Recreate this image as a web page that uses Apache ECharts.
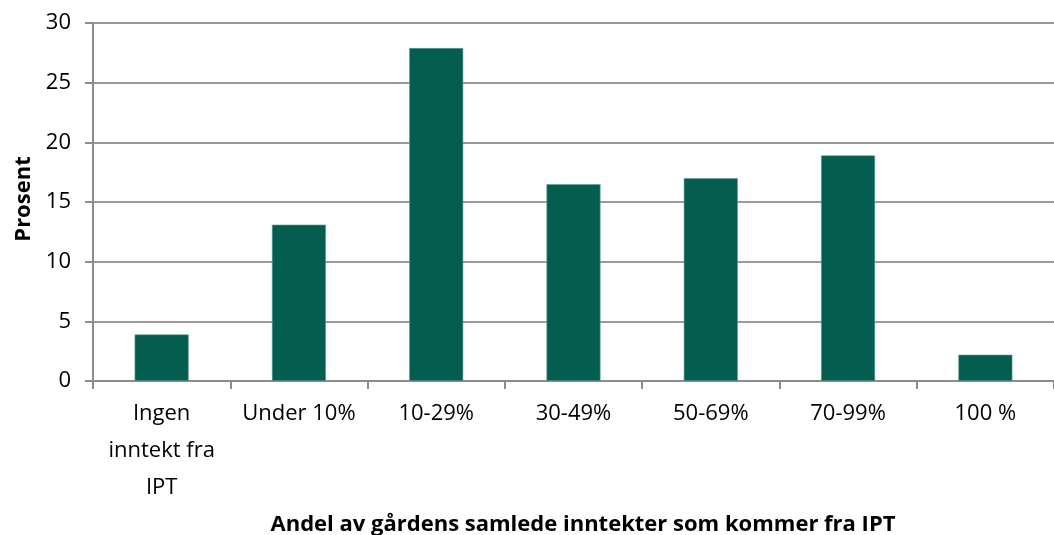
<!DOCTYPE html>
<html>
<head>
<meta charset="utf-8">
<script src="https://cdn.jsdelivr.net/npm/echarts@6/dist/echarts.min.js"></script>
<style>
html,body{margin:0;padding:0;background:#fff;}
#chart{width:1054px;height:535px;}
</style>
</head>
<body>
<div id="chart"></div>
<script>
const categories = ['Ingen\ninntekt fra\nIPT', 'Under 10%', '10-29%', '30-49%', '50-69%', '70-99%', '100 %'];
const values = [3.9, 13.1, 27.9, 16.5, 17.0, 18.9, 2.2];
const yTicks = [0, 5, 10, 15, 20, 25, 30];
const yTitle = 'Prosent';
const xTitle = 'Andel av gårdens samlede inntekter som kommer fra IPT';

const font = '"Open Sans", sans-serif';
const chart = echarts.init(document.getElementById('chart'));
chart.setOption({
  animation: false,
  backgroundColor: '#ffffff',
  title: {
    text: xTitle,
    left: 578,
    top: 509,
    textAlign: 'center',
    textStyle: {fontFamily: font, fontSize: 22, fontWeight: 'bold', color: '#000'}
  },
  grid: {left: 93, right: -9, top: 23, bottom: 154, containLabel: false},
  xAxis: {
    type: 'category',
    data: categories,
    axisLine: {lineStyle: {color: '#8c8c8c', width: 2}},
    axisTick: {show: true, length: 8, lineStyle: {color: '#8c8c8c', width: 2}},
    axisLabel: {color: '#000', fontFamily: font, fontSize: 22, lineHeight: 37, margin: 14, interval: 0}
  },
  yAxis: {
    type: 'value',
    min: 0, max: 30, interval: 5,
    name: yTitle,
    nameLocation: 'middle',
    nameGap: 58,
    nameTextStyle: {fontFamily: font, fontSize: 22, fontWeight: 'bold', color: '#000', padding: [0, 0, 0, 6]},
    axisLine: {show: true, lineStyle: {color: '#8c8c8c', width: 2}},
    axisTick: {show: true, length: 8, lineStyle: {color: '#8c8c8c', width: 2}},
    splitLine: {lineStyle: {color: '#9a9a9a', width: 2}},
    axisLabel: {color: '#000', fontFamily: font, fontSize: 22, margin: 22,
      formatter: v => yTicks.includes(v) ? String(v) : ''}
  },
  series: [{
    type: 'bar',
    data: values,
    barWidth: 54,
    itemStyle: {color: '#035e50', borderColor: '#5f9e94', borderWidth: 0.6}
  }]
});
</script>
</body>
</html>
